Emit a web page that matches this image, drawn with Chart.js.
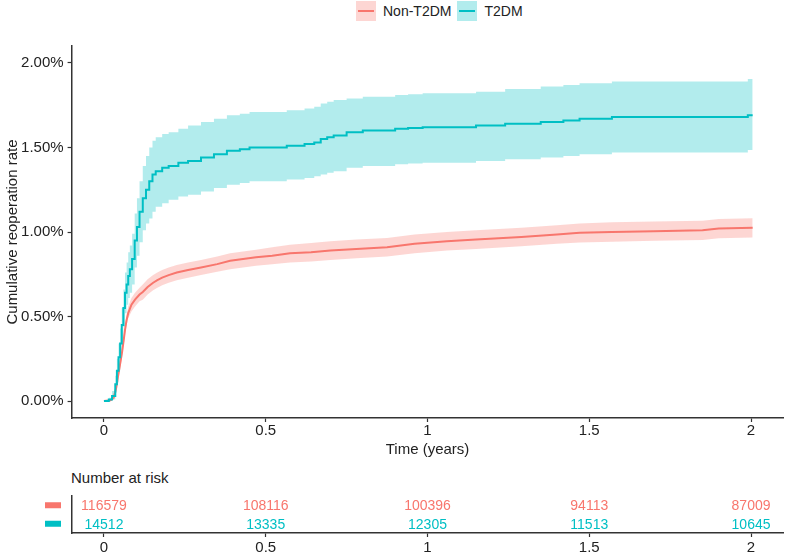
<!DOCTYPE html>
<html>
<head>
<meta charset="utf-8">
<title>Cumulative reoperation rate</title>
<script src="https://cdn.jsdelivr.net/npm/chart.js@4.4.0/dist/chart.umd.min.js"></script>
<style>
  html, body { margin: 0; padding: 0; background: #fff; }
  body {
    width: 794px; height: 554px; position: relative; overflow: hidden;
    font-family: "Liberation Sans", Arial, sans-serif; color: #222;
  }
  #legend { position: absolute; left: 356px; top: 1px; display: flex; align-items: center; font-size: 14px; }
  #legend .item { display: flex; align-items: center; margin-right: 6px; }
  .key { width: 20px; height: 20px; position: relative; margin-right: 7px; }
  .key::after { content: ""; position: absolute; left: 2px; right: 2px; top: 9px; height: 2px; background: var(--c); }
  #main { position: absolute; left: 0; top: 0; }
  #risk { position: absolute; left: 0; top: 460px; }
  #riskTitle { position: absolute; left: 71px; top: 469px; font-size: 15px; }
</style>
</head>
<body>
<div id="legend"></div>
<canvas id="main" width="794" height="460"></canvas>
<div id="riskTitle">Number at risk</div>
<canvas id="risk" width="794" height="94"></canvas>

<script>
// --- data (percent) ---
const groups = ["Non-T2DM", "T2DM"];

const nonTime  = [0, 0.02, 0.03, 0.038, 0.043, 0.05, 0.056, 0.061, 0.065, 0.07, 0.075, 0.085, 0.096, 0.11, 0.12, 0.135, 0.152, 0.165, 0.18, 0.2, 0.225, 0.26, 0.3, 0.35, 0.39, 0.43, 0.47, 0.52, 0.575, 0.64, 0.7, 0.78, 0.875, 0.96, 1.06, 1.15, 1.29, 1.4, 1.47, 1.57, 1.7, 1.85, 1.9, 2.005];
const nonEst   = [0, 0.005, 0.02, 0.08, 0.14, 0.22, 0.29, 0.36, 0.42, 0.48, 0.52, 0.57, 0.6, 0.63, 0.645, 0.675, 0.7, 0.715, 0.73, 0.745, 0.76, 0.775, 0.79, 0.81, 0.83, 0.84, 0.85, 0.86, 0.875, 0.88, 0.89, 0.9, 0.91, 0.93, 0.945, 0.955, 0.97, 0.985, 0.995, 1.0, 1.005, 1.01, 1.02, 1.025];
const nonLower = [0, 0, 0.01, 0.06, 0.12, 0.19, 0.26, 0.33, 0.39, 0.45, 0.49, 0.53, 0.56, 0.59, 0.6, 0.63, 0.655, 0.67, 0.685, 0.7, 0.715, 0.73, 0.745, 0.765, 0.78, 0.79, 0.8, 0.81, 0.82, 0.825, 0.835, 0.845, 0.855, 0.875, 0.89, 0.9, 0.915, 0.93, 0.938, 0.943, 0.948, 0.953, 0.963, 0.968];
const nonUpper = [0, 0.01, 0.03, 0.1, 0.16, 0.25, 0.32, 0.39, 0.45, 0.51, 0.56, 0.61, 0.64, 0.67, 0.69, 0.72, 0.745, 0.76, 0.775, 0.79, 0.805, 0.82, 0.835, 0.855, 0.875, 0.885, 0.895, 0.91, 0.925, 0.935, 0.945, 0.955, 0.965, 0.985, 1.0, 1.01, 1.025, 1.04, 1.05, 1.057, 1.062, 1.067, 1.077, 1.082];

const t2Time  = [0, 0.015, 0.025, 0.035, 0.04, 0.045, 0.05, 0.055, 0.06, 0.065, 0.07, 0.075, 0.08, 0.087, 0.095, 0.102, 0.11, 0.12, 0.13, 0.14, 0.15, 0.16, 0.18, 0.2, 0.23, 0.26, 0.3, 0.34, 0.38, 0.42, 0.45, 0.565, 0.62, 0.65, 0.67, 0.69, 0.71, 0.75, 0.8, 0.9, 0.94, 0.985, 1.15, 1.24, 1.35, 1.42, 1.47, 1.57, 1.99, 2.005];
const t2Est   = [0, 0.01, 0.03, 0.1, 0.18, 0.26, 0.34, 0.45, 0.55, 0.64, 0.69, 0.74, 0.78, 0.84, 0.95, 1.03, 1.12, 1.2, 1.25, 1.3, 1.34, 1.36, 1.38, 1.39, 1.41, 1.42, 1.44, 1.46, 1.48, 1.49, 1.5, 1.51, 1.52, 1.53, 1.55, 1.56, 1.57, 1.59, 1.6, 1.61, 1.615, 1.62, 1.63, 1.64, 1.65, 1.66, 1.67, 1.68, 1.69, 1.69];
const t2Lower = [0, 0, 0.01, 0.05, 0.11, 0.18, 0.25, 0.35, 0.44, 0.52, 0.57, 0.61, 0.64, 0.69, 0.79, 0.86, 0.94, 1.01, 1.05, 1.08, 1.12, 1.15, 1.17, 1.19, 1.21, 1.22, 1.24, 1.26, 1.28, 1.29, 1.3, 1.31, 1.32, 1.33, 1.34, 1.35, 1.36, 1.38, 1.39, 1.4, 1.405, 1.41, 1.42, 1.43, 1.44, 1.45, 1.46, 1.47, 1.485, 1.485];
const t2Upper = [0, 0.02, 0.06, 0.15, 0.25, 0.34, 0.43, 0.55, 0.66, 0.76, 0.82, 0.88, 0.92, 0.99, 1.11, 1.2, 1.3, 1.39, 1.45, 1.5, 1.54, 1.56, 1.58, 1.59, 1.61, 1.63, 1.65, 1.67, 1.69, 1.7, 1.71, 1.72, 1.73, 1.74, 1.76, 1.77, 1.78, 1.79, 1.8, 1.81, 1.815, 1.82, 1.83, 1.845, 1.86, 1.87, 1.88, 1.89, 1.905, 1.905];

const xTickValues = [0, 0.5, 1, 1.5, 2];
const yTickValues = [0, 0.5, 1, 1.5, 2];

const riskTimes = [0, 0.5, 1, 1.5, 2];
const riskNon = [116579, 108116, 100396, 94113, 87009];
const riskT2  = [14512, 13335, 12305, 11513, 10645];

// --- styling ---
const RED = "#F8766D", TEAL = "#00BFC4";
const RED_BAND = "rgba(248,118,109,0.3)", TEAL_BAND = "rgba(0,191,196,0.3)";
const AXIS = "#333333";
const FONT = '"Liberation Sans", Arial, sans-serif';

Chart.defaults.font.family = FONT;
Chart.defaults.color = "#222";
Chart.defaults.animation = false;

const zip = (xs, ys) => xs.map((x, i) => ({ x, y: ys[i] }));

// legend (html)
const legendEl = document.getElementById("legend");
[[groups[0], RED, RED_BAND], [groups[1], TEAL, TEAL_BAND]].forEach(([name, line, band]) => {
  const item = document.createElement("div");
  item.className = "item";
  item.innerHTML = `<span class="key" style="background:${band};--c:${line}"></span><span>${name}</span>`;
  legendEl.appendChild(item);
});

const xAxis = (extra) => ({
  type: "linear",
  min: -0.1,
  max: 2.1,
  afterBuildTicks: (s) => { s.ticks = xTickValues.map((v) => ({ value: v })); },
  ticks: { font: { size: 15 }, color: "#222", padding: 0, maxRotation: 0, callback: (v) => String(v) },
  grid: { drawOnChartArea: false, drawTicks: true, tickLength: 4, tickColor: AXIS, tickWidth: 1.2 },
  border: { display: true, color: AXIS, width: 1.5 },
  ...extra,
});

new Chart(document.getElementById("main"), {
  type: "line",
  data: {
    datasets: [
      { data: zip(nonTime, nonLower), borderWidth: 0, pointRadius: 0, fill: false, order: 3 },
      { data: zip(nonTime, nonUpper), borderWidth: 0, pointRadius: 0, fill: "-1", backgroundColor: RED_BAND, order: 3 },
      { data: zip(t2Time, t2Lower), borderWidth: 0, pointRadius: 0, fill: false, stepped: true, order: 2 },
      { data: zip(t2Time, t2Upper), borderWidth: 0, pointRadius: 0, fill: "-1", stepped: true, backgroundColor: TEAL_BAND, order: 2 },
      { label: groups[0], data: zip(nonTime, nonEst), borderColor: RED, borderWidth: 2, pointRadius: 0, fill: false, order: 1 },
      { label: groups[1], data: zip(t2Time, t2Est), borderColor: TEAL, borderWidth: 2, pointRadius: 0, fill: false, stepped: true, order: 0 },
    ],
  },
  options: {
    responsive: false,
    layout: { padding: { top: 46, right: 10.6, left: 0, bottom: 0 } },
    plugins: { legend: { display: false }, tooltip: { enabled: false } },
    scales: {
      x: xAxis({
        afterFit: (s) => { s.height = 42; },
        title: { display: true, text: "Time (years)", font: { size: 15 }, color: "#222", padding: { top: 0, bottom: 1 } },
      }),
      y: {
        type: "linear",
        min: -0.1,
        max: 2.1,
        afterFit: (s) => { s.width = 71.6; },
        afterBuildTicks: (s) => { s.ticks = yTickValues.map((v) => ({ value: v })); },
        ticks: { font: { size: 15 }, color: "#222", padding: 4, callback: (v) => v.toFixed(2) + "%" },
        grid: { drawOnChartArea: false, drawTicks: true, tickLength: 4, tickColor: AXIS, tickWidth: 1.2 },
        border: { display: true, color: AXIS, width: 1.5 },
        title: { display: true, text: "Cumulative reoperation rate", font: { size: 15 }, color: "#222", padding: { top: 4, bottom: 0 } },
      },
    },
  },
});

// risk table: numbers placed through the chart scales
const riskText = {
  id: "riskText",
  afterDatasetsDraw(chart) {
    const { ctx } = chart;
    ctx.save();
    ctx.font = "14px " + FONT;
    ctx.textAlign = "center";
    ctx.textBaseline = "middle";
    chart.data.datasets.forEach((ds, i) => {
      chart.getDatasetMeta(i).data.forEach((pt, j) => {
        ctx.fillStyle = ds.borderColor;
        ctx.fillText(String(ds.counts[j]), pt.x, pt.y + 1);
      });
    });
    const ys = chart.scales.y;
    [RED, TEAL].forEach((c, i) => {
      ctx.fillStyle = c;
      ctx.fillRect(45, ys.getPixelForValue(i) - 3, 16, 6);
    });
    ctx.restore();
  },
};

new Chart(document.getElementById("risk"), {
  type: "scatter",
  data: {
    datasets: [
      { data: riskTimes.map((t) => ({ x: t, y: groups[0] })), counts: riskNon, borderColor: RED, pointRadius: 0 },
      { data: riskTimes.map((t) => ({ x: t, y: groups[1] })), counts: riskT2, borderColor: TEAL, pointRadius: 0 },
    ],
  },
  options: {
    responsive: false,
    layout: { padding: { top: 36, right: 10.6, left: 0, bottom: 0 } },
    plugins: { legend: { display: false }, tooltip: { enabled: false } },
    scales: {
      x: xAxis({ afterFit: (s) => { s.height = 21; }, ticks: { font: { size: 15 }, color: "#222", padding: 2, maxRotation: 0, callback: (v) => String(v) } }),
      y: {
        type: "category",
        labels: groups,
        offset: true,
        afterFit: (s) => { s.width = 71.6; },
        ticks: { display: false },
        grid: { display: false },
        border: { display: true, color: AXIS, width: 1.5 },
      },
    },
  },
  plugins: [riskText],
});
</script>
</body>
</html>
